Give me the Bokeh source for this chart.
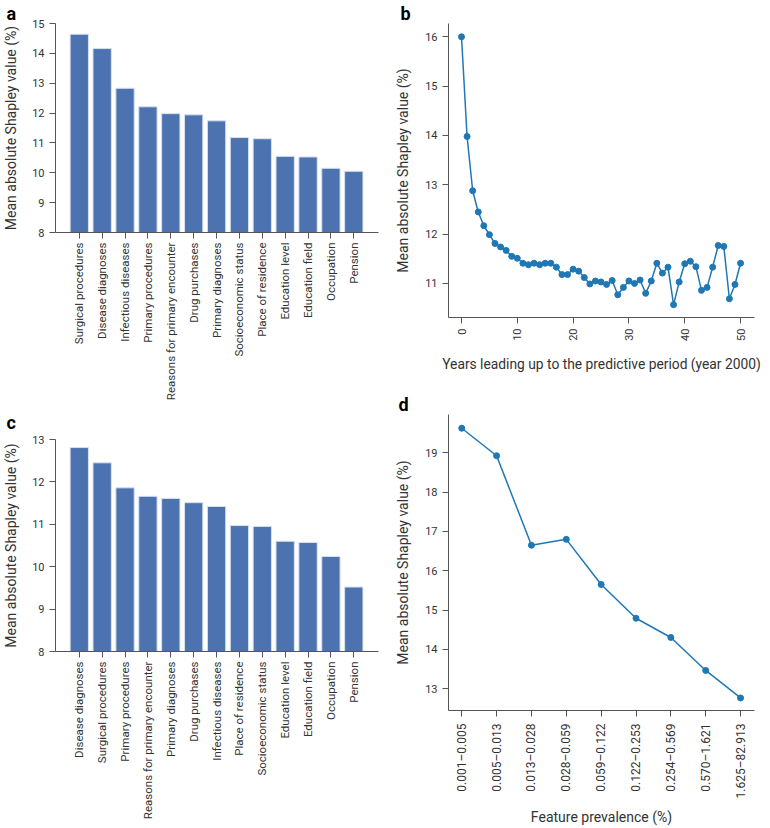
import math
from bokeh.plotting import figure
from bokeh.models import Range1d, FixedTicker
from bokeh.layouts import column, row
from bokeh.embed import file_html
from bokeh.resources import INLINE

FONT = "Roboto"
BAR = "#4c72b0"
LINE = "#1f77b4"
AX = "#555555"
TXT = "#333333"

# ---- data ----
cats_a = ["Surgical procedures", "Disease diagnoses", "Infectious diseases",
          "Primary procedures", "Reasons for primary encounter", "Drug purchases",
          "Primary diagnoses", "Socioeconomic status", "Place of residence",
          "Education level", "Education field", "Occupation", "Pension"]
vals_a = [14.64, 14.16, 12.83, 12.21, 11.98, 11.94, 11.74, 11.18, 11.14,
          10.55, 10.53, 10.15, 10.05]

years_b = list(range(51))
vals_b = [16.0, 13.98, 12.88, 12.45, 12.17, 11.99, 11.81, 11.74, 11.67, 11.55,
          11.51, 11.41, 11.38, 11.41, 11.38, 11.41, 11.41, 11.33, 11.18, 11.18,
          11.29, 11.25, 11.12, 10.99, 11.05, 11.03, 10.98, 11.06, 10.77, 10.92,
          11.05, 11.00, 11.07, 10.80, 11.05, 11.41, 11.21, 11.33, 10.57, 11.03,
          11.40, 11.45, 11.34, 10.86, 10.92, 11.33, 11.77, 11.75, 10.69, 10.98,
          11.41]

cats_c = ["Disease diagnoses", "Surgical procedures", "Primary procedures",
          "Reasons for primary encounter", "Primary diagnoses", "Drug purchases",
          "Infectious diseases", "Place of residence", "Socioeconomic status",
          "Education level", "Education field", "Occupation", "Pension"]
vals_c = [12.81, 12.45, 11.86, 11.66, 11.61, 11.51, 11.42, 10.97, 10.95,
          10.60, 10.57, 10.24, 9.52]

prev_d = ["0.001\u20130.005", "0.005\u20130.013", "0.013\u20130.028",
          "0.028\u20130.059", "0.059\u20130.122", "0.122\u20130.253",
          "0.254\u20130.569", "0.570\u20131.621", "1.625\u201382.913"]
vals_d = [19.63, 18.93, 16.65, 16.80, 15.65, 14.79, 14.30, 13.46, 12.76]

YLABEL = "Mean absolute Shapley value (%)"


def style(p, yticks, xticks, overrides=None, ylab_standoff=11, ytick_standoff=5,
          xlab_standoff=8, xtick_standoff=4):
    p.outline_line_color = None
    p.xgrid.visible = False
    p.ygrid.visible = False
    for ax in (p.xaxis[0], p.yaxis[0]):
        ax.axis_line_color = AX
        ax.major_tick_line_color = AX
        ax.major_tick_out = 6
        ax.major_tick_in = 0
        ax.minor_tick_line_color = None
        ax.major_label_text_font = FONT
        ax.major_label_text_font_size = "11px"
        ax.major_label_text_color = TXT
        ax.axis_label_text_font = FONT
        ax.axis_label_text_font_style = "normal"
        ax.axis_label_text_font_size = "14px"
        ax.axis_label_text_color = TXT
    p.yaxis[0].major_label_standoff = ytick_standoff
    p.xaxis[0].major_label_standoff = xtick_standoff
    p.yaxis[0].ticker = FixedTicker(ticks=yticks)
    p.xaxis[0].ticker = FixedTicker(ticks=xticks)
    p.yaxis[0].axis_label = YLABEL
    p.yaxis[0].axis_label_standoff = ylab_standoff
    p.xaxis[0].axis_label_standoff = xlab_standoff
    p.xaxis[0].major_label_orientation = math.pi / 2
    if overrides:
        p.xaxis[0].major_label_overrides = overrides


def letter(p, txt, offset, standoff=0):
    p.title.text = txt
    p.title.align = "left"
    p.title.offset = offset
    p.title.standoff = standoff
    p.title.text_font = FONT
    p.title.text_font_size = "18px"
    p.title.text_font_style = "bold"
    p.title.text_color = "#000000"


HA = 403          # height of panel a (left column)
HC = 828 - HA     # height of panel c
HB = 391          # height of panel b (right column)
HD = 828 - HB     # height of panel d


def bar_panel(cats, vals, ymax, height, top, bottom):
    idx = list(range(len(cats)))
    p = figure(width=390, height=height, output_backend="svg", toolbar_location=None,
               x_range=Range1d(-1.04, 13.08), y_range=Range1d(8, ymax),
               min_border_left=49, min_border_right=12, min_border_top=top,
               min_border_bottom=bottom, frame_align=False)
    p.vbar(x=idx, top=vals, bottom=8, width=0.8, fill_color=BAR,
           line_color="#d6e0ee", line_width=1)
    style(p, list(range(8, ymax + 1)), idx,
          {i: c for i, c in enumerate(cats)}, ylab_standoff=10, ytick_standoff=5)
    p.xaxis[0].major_label_text_font_size = "11.5px"
    return p


# panel a: frame y 21..234, x 49..378
pa = bar_panel(cats_a, vals_a, 15, HA, 21, HA - 234)
letter(pa, "a", -49)
# panel c: frame y 439..651
pc = bar_panel(cats_c, vals_c, 13, HC, 439 - HA, 828 - 651)
letter(pc, "c", -49, standoff=13)

# panel b: frame x 448..754, y 18..317
pb = figure(width=380, height=HB, output_backend="svg", toolbar_location=None,
            x_range=Range1d(-2.33, 52.5), y_range=Range1d(10.31, 16.27),
            min_border_left=58, min_border_right=16, min_border_top=18,
            min_border_bottom=HB - 317, frame_align=False)
pb.line(years_b, vals_b, line_color=LINE, line_width=1.5)
pb.scatter(years_b, vals_b, size=6, fill_color=LINE, line_color=LINE)
style(pb, [11, 12, 13, 14, 15, 16], [0, 10, 20, 30, 40, 50], ylab_standoff=11,
      xlab_standoff=12, xtick_standoff=5)
pb.xaxis[0].axis_label = "Years leading up to the predictive period (year 2000)"
pb.xaxis[0].axis_label_text_font_size = "13.8px"
letter(pb, "b", -48)

# panel d: frame x 448..754, y 414..712
pd_ = figure(width=380, height=HD, output_backend="svg", toolbar_location=None,
             x_range=Range1d(-0.38, 8.4), y_range=Range1d(12.44, 19.98),
             min_border_left=58, min_border_right=16, min_border_top=414 - HB,
             min_border_bottom=828 - 712, frame_align=False)
idx_d = list(range(len(prev_d)))
pd_.line(idx_d, vals_d, line_color=LINE, line_width=1.5)
pd_.scatter(idx_d, vals_d, size=6, fill_color=LINE, line_color=LINE)
style(pd_, [13, 14, 15, 16, 17, 18, 19], idx_d,
      {i: c for i, c in enumerate(prev_d)}, ylab_standoff=11, xlab_standoff=8,
      xtick_standoff=7)
pd_.xaxis[0].axis_label = "Feature prevalence (%)"
pd_.xaxis[0].major_label_text_font_size = "12px"
letter(pd_, "d", -50)

layout = row(column(pa, pc), column(pb, pd_))
open("out.html", "w").write(file_html(layout, INLINE))
